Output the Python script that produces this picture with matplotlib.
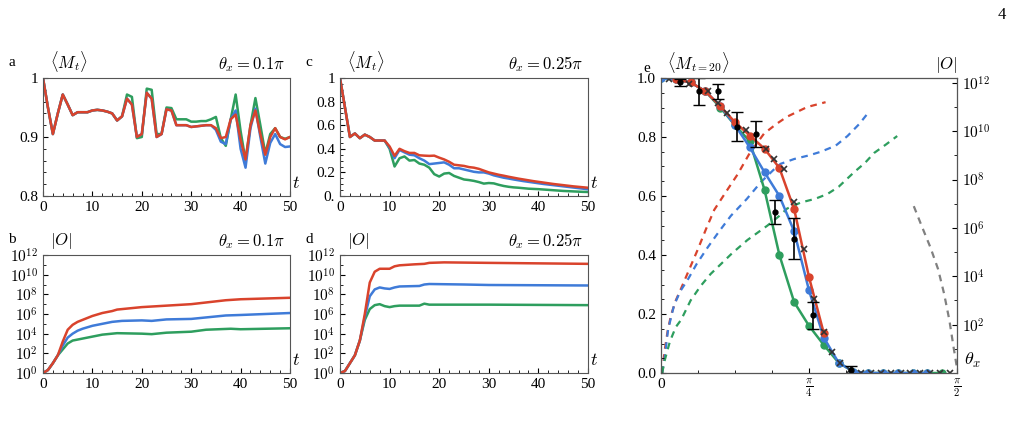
import numpy as np
import matplotlib
matplotlib.use("Agg")
import matplotlib.pyplot as plt

plt.rcParams['font.family'] = ['Liberation Serif', 'DejaVu Serif']
plt.rcParams['mathtext.fontset'] = 'cm'
plt.rcParams['font.size'] = 11

RED, BLUE, GREEN, GRAY = '#d9432c', '#3f7bd8', '#2e9e5e', '#808080'

# ---- panel a: <M_t>, theta=0.1pi
t_full = list(range(51))
a_red = [1.0,0.95,0.905,0.94,0.972,0.955,0.937,0.942,0.942,0.942,0.945,0.946,0.945,0.943,0.94,0.928,0.935,0.965,0.955,0.9,0.905,0.975,0.965,0.9,0.905,0.947,0.945,0.92,0.92,0.92,0.917,0.918,0.919,0.92,0.92,0.915,0.898,0.9,0.93,0.938,0.895,0.862,0.92,0.945,0.905,0.87,0.9,0.915,0.9,0.896,0.9]
a_blue = a_red[:35] + [0.912,0.892,0.888,0.93,0.945,0.88,0.848,0.915,0.948,0.9,0.855,0.89,0.905,0.888,0.883,0.884]
a_green = a_red[:17] + [0.972,0.968,0.898,0.9,0.982,0.98,0.905,0.905,0.95,0.949,0.93,0.93,0.93,0.926,0.926,0.927,0.927,0.93,0.934,0.898,0.885,0.93,0.972,0.91,0.86,0.92,0.966,0.92,0.872,0.905,0.915,0.9,0.897,0.9]

# ---- panel c: <M_t>, theta=0.25pi
c_red = [1.0,0.75,0.5,0.53,0.49,0.52,0.5,0.47,0.47,0.47,0.42,0.34,0.4,0.38,0.365,0.365,0.345,0.342,0.34,0.342,0.325,0.31,0.29,0.265,0.26,0.255,0.245,0.24,0.23,0.215,0.2,0.19,0.18,0.172,0.163,0.155,0.147,0.14,0.133,0.126,0.12,0.114,0.108,0.102,0.097,0.092,0.087,0.082,0.078,0.074,0.07]
c_blue = c_red[:10] + [0.41,0.32,0.39,0.37,0.35,0.345,0.32,0.3,0.27,0.275,0.28,0.285,0.265,0.235,0.235,0.225,0.215,0.205,0.2,0.2,0.19,0.175,0.165,0.155,0.148,0.14,0.133,0.126,0.12,0.114,0.108,0.102,0.097,0.092,0.087,0.082,0.077,0.072,0.067,0.062,0.057]
c_green = c_red[:10] + [0.4,0.25,0.32,0.335,0.3,0.305,0.275,0.265,0.24,0.185,0.165,0.19,0.195,0.17,0.155,0.14,0.135,0.128,0.118,0.105,0.11,0.107,0.095,0.085,0.078,0.073,0.07,0.066,0.062,0.06,0.058,0.055,0.052,0.049,0.046,0.043,0.041,0.039,0.037,0.035,0.034]

# ---- panel b: log10|O|, theta=0.1pi
b_t_red = [0,1,2,3,4,5,6,7,8,9,10,11,12,13,14,15,16,17,18,19,20,30,37,40,50]
b_red = [0,0.3,1.0,1.8,3.2,4.4,4.9,5.2,5.4,5.6,5.8,5.95,6.1,6.2,6.3,6.45,6.5,6.55,6.6,6.65,6.7,7.0,7.4,7.5,7.65]
b_t_blue = [0,1,2,3,4,5,6,7,8,9,10,12,14,16,20,22,25,30,32,37,40,50]
b_blue = [0,0.3,1.0,1.8,2.8,3.6,4.0,4.3,4.5,4.65,4.8,5.0,5.2,5.3,5.35,5.3,5.45,5.5,5.6,5.85,5.9,6.1]
b_t_green = [0,1,2,3,4,5,6,7,8,10,12,15,20,22,25,30,33,38,40,50]
b_green = [0,0.3,1.0,1.8,2.4,3.0,3.3,3.4,3.5,3.7,3.9,4.05,4.0,3.95,4.1,4.2,4.4,4.5,4.45,4.55]

# ---- panel d: log10|O|, theta=0.25pi
d_t_red = [0,1,2,3,4,5,6,7,8,10,11,12,15,17,18,21,30,50]
d_red = [0,0.2,1,1.8,3.3,6,9.2,10.3,10.6,10.6,10.85,10.95,11.05,11.1,11.2,11.25,11.2,11.1]
d_t_blue = [0,1,2,3,4,5,6,7,8,9,10,11,12,16,17,18,25,30,50]
d_blue = [0,0.2,1,1.8,3.3,5.7,7.8,8.5,8.7,8.6,8.55,8.7,8.8,8.85,9.0,9.05,9.0,8.95,8.9]
d_t_green = [0,1,2,3,4,5,6,7,8,9,10,11,12,16,17,18,30,50]
d_green = [0,0.2,1,1.8,3.3,5.4,6.5,6.9,7.0,6.8,6.7,6.8,6.85,6.85,7.05,6.95,6.95,6.9]

# ---- panel e: <M_{t=20}> vs theta (units of pi/40)
e_k_red = [1,2,3,4,5,6,7,8,9,10,11]
e_red = [0.995,0.985,0.955,0.905,0.85,0.805,0.76,0.695,0.555,0.325,0.135]
e_k_blue = [0,1,2,3,4,5,6,7,8,9,10,11,12,13,14,15,16,17,18]
e_blue = [1.0,0.995,0.985,0.955,0.905,0.84,0.765,0.68,0.60,0.48,0.28,0.12,0.035,0.005,0.0,0.0,0.0,0.0,0.0]
e_k_green = [0,1,2,3,4,5,6,7,8,9,10,11,12,13,14,15,16,17,18,19]
e_green = [1.0,0.995,0.985,0.955,0.9,0.84,0.785,0.62,0.40,0.24,0.16,0.095,0.035,0.005,0.0,0.0,0.0,0.0,0.0,0.0]
# crosses (theta/pi)
x_th = [0.014,0.048,0.079,0.096,0.112,0.143,0.177,0.191,0.208,0.225,0.242,0.258,0.275,0.289,0.303,0.32,0.337,0.354,0.371,0.388,0.405,0.421,0.438,0.455,0.472,0.489]
x_val = [0.995,0.98,0.955,0.915,0.88,0.825,0.76,0.725,0.69,0.58,0.42,0.25,0.14,0.07,0.035,0.01,0.0,0.0,0.0,0.0,0.0,0.0,0.0,0.0,0.0,0.0]
# experimental points
ex_th = [0.032,0.064,0.097,0.129,0.161,0.193,0.225,0.257,0.321]
ex_val = [0.985,0.955,0.955,0.835,0.81,0.545,0.455,0.195,0.01]
ex_err = [0.012,0.045,0.025,0.05,0.045,0.04,0.07,0.045,0.015]
# dashed log10|O| curves
dr_th = [0.002,0.006,0.011,0.017,0.025,0.034,0.048,0.062,0.076,0.090,0.11,0.129,0.15,0.174,0.195,0.213,0.23,0.247,0.278]
dr = [0,0.9,1.7,2.4,3.0,3.5,4.3,5.1,5.95,6.75,7.5,8.2,9.1,9.9,10.3,10.6,10.8,11.0,11.2]
db_th = [0.002,0.006,0.012,0.022,0.033,0.045,0.06,0.079,0.098,0.118,0.145,0.169,0.19,0.202,0.225,0.25,0.270,0.295,0.315,0.335,0.348]
db = [0,0.6,1.8,2.8,3.4,3.85,4.5,5.2,5.85,6.5,7.2,7.9,8.4,8.65,8.85,9.0,9.15,9.4,9.8,10.3,10.7]
dg_th = [0.002,0.006,0.015,0.025,0.034,0.05,0.067,0.084,0.101,0.12,0.146,0.163,0.180,0.2,0.213,0.236,0.26,0.281,0.30,0.326,0.345,0.36,0.38,0.399]
dg = [0,0.5,1.3,1.9,2.2,3.0,3.6,4.1,4.5,4.95,5.5,5.8,6.1,6.5,6.8,7.05,7.2,7.4,7.7,8.3,8.7,9.1,9.45,9.8]
dk_th = [0.427,0.44,0.455,0.468,0.478,0.487,0.494,0.5]
dk = [6.9,6.1,5.2,4.3,3.3,2.2,1.1,0.2]

fig = plt.figure(figsize=(10.17, 4.37), dpi=100)
W, H = 1017, 437
def ax_at(x0, y0, x1, y1):
    return fig.add_axes([x0/W, 1-y1/H, (x1-x0)/W, (y1-y0)/H])

def style(ax):
    ax.tick_params(direction='in', which='both', labelsize=11, top=False, right=False)
    ax.minorticks_on()
    for s in ax.spines.values():
        s.set_color('#555555')

lw = 1.8
axa = ax_at(43, 78, 290, 196)
axc = ax_at(340, 78, 588, 196)
axb = ax_at(43, 255, 290, 373)
axd = ax_at(340, 255, 588, 373)
axe = ax_at(661, 78, 957, 373)

for ax, (r, b, g) in [(axa, (a_red, a_blue, a_green)), (axc, (c_red, c_blue, c_green))]:
    ax.plot(t_full, g, color=GREEN, lw=lw)
    ax.plot(t_full, b, color=BLUE, lw=lw)
    ax.plot(t_full, r, color=RED, lw=lw)
    ax.set_xlim(0, 50)
    style(ax)
axa.set_ylim(0.8, 1.0)
axa.set_yticks([0.8, 0.9, 1.0]); axa.set_yticklabels(['0.8', '0.9', '1'])
axa.set_xticks([0, 10, 20, 30, 40, 50])
axc.set_ylim(0, 1.0)
axc.set_yticks([0, 0.2, 0.4, 0.6, 0.8, 1.0]); axc.set_yticklabels(['0.', '0.2', '0.4', '0.6', '0.8', '1'])
axc.set_xticks([0, 10, 20, 30, 40, 50])

for ax, data in [(axb, ((b_t_green, b_green, GREEN), (b_t_blue, b_blue, BLUE), (b_t_red, b_red, RED))),
                 (axd, ((d_t_green, d_green, GREEN), (d_t_blue, d_blue, BLUE), (d_t_red, d_red, RED)))]:
    for tt, vv, cc in data:
        ax.plot(tt, vv, color=cc, lw=lw)
    ax.set_xlim(0, 50); ax.set_ylim(0, 12)
    ax.set_yticks(range(0, 13, 2))
    ax.set_yticklabels([r'$10^{%d}$' % k for k in range(0, 13, 2)])
    ax.set_xticks([0, 10, 20, 30, 40, 50])
    style(ax)
    ax.set_yticks(np.arange(0, 12.1, 1), minor=True)

for ax, lab, ylab, th in [(axa, 'a', r'$\langle M_t\rangle$', r'$\theta_x=0.1\pi$'),
                          (axc, 'c', r'$\langle M_t\rangle$', r'$\theta_x=0.25\pi$'),
                          (axb, 'b', r'$|O|$', r'$\theta_x=0.1\pi$'),
                          (axd, 'd', r'$|O|$', r'$\theta_x=0.25\pi$')]:
    ax.text(-0.14, 1.08, lab, transform=ax.transAxes, fontsize=11, va='bottom')
    ax.text(0.03, 1.03, ylab, transform=ax.transAxes, fontsize=12, va='bottom')
    ax.text(0.98, 1.03, th, transform=ax.transAxes, fontsize=12, va='bottom', ha='right')
    ax.text(1.01, 0.03, r'$t$', transform=ax.transAxes, fontsize=13, va='bottom', ha='left')

# panel e
P = np.pi
axr = axe.twinx()
for th_, v_, c_ in [(dr_th, dr, RED), (db_th, db, BLUE), (dg_th, dg, GREEN), (dk_th, dk, GRAY)]:
    axr.plot([v*P for v in th_], v_, color=c_, lw=1.6, dashes=(3, 2.5))
axe.set_zorder(axr.get_zorder() + 1); axe.patch.set_visible(False)
axe.plot([k/40*P for k in e_k_green], e_green, '-o', color=GREEN, lw=lw, ms=5)
axe.plot([k/40*P for k in e_k_blue], e_blue, '-o', color=BLUE, lw=lw, ms=5)
axe.plot([k/40*P for k in e_k_red], e_red, '-o', color=RED, lw=lw, ms=5)
axe.plot([v*P for v in x_th], x_val, 'x', color='#333333', ms=5, mew=1.2)
axe.errorbar([v*P for v in ex_th], ex_val, yerr=ex_err, fmt='o', color='black', ms=3.5, capsize=4, lw=1.2)
axe.set_xlim(0, P/2); axe.set_ylim(0, 1.0)
axe.set_xticks([0, P/4, P/2]); axe.set_xticklabels(['0', r'$\frac{\pi}{4}$', r'$\frac{\pi}{2}$'])
axe.set_yticks([0, 0.2, 0.4, 0.6, 0.8, 1.0]); axe.set_yticklabels(['0.0', '0.2', '0.4', '0.6', '0.8', '1.0'])
style(axe)
axr.set_ylim(0, 12.2)
axr.set_yticks(range(2, 13, 2))
axr.set_yticklabels([r'$10^{%d}$' % k for k in range(2, 13, 2)])
axr.tick_params(direction='in', which='both', labelsize=11)
axr.set_yticks(np.arange(0, 12.1, 1), minor=True)
axe.text(-0.06, 1.01, 'e', transform=axe.transAxes, fontsize=11, va='bottom')
axe.text(0.02, 1.01, r'$\langle M_{t=20}\rangle$', transform=axe.transAxes, fontsize=12, va='bottom')
axe.text(1.0, 1.01, r'$|O|$', transform=axe.transAxes, fontsize=12, va='bottom', ha='right')
axe.text(1.025, 0.01, r'$\theta_x$', transform=axe.transAxes, fontsize=13, va='bottom')

fig.text(1002/W, 1-15/H, '4', fontsize=12, ha='center', va='center')
fig.savefig('out.png', dpi=100)
